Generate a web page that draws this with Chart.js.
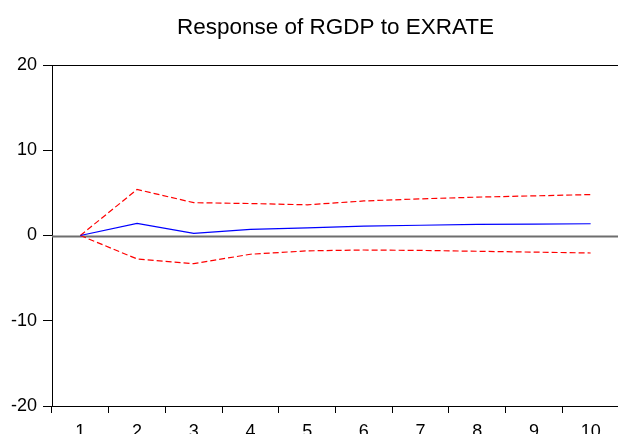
<!DOCTYPE html>
<html>
<head>
<meta charset="utf-8">
<script src="https://cdn.jsdelivr.net/npm/chart.js@4/dist/chart.umd.min.js"></script>
<style>
  html, body { margin: 0; padding: 0; background: #fff; overflow: hidden; }
  #wrap { width: 625px; height: 434px; }
</style>
</head>
<body>
<div id="wrap"><canvas id="irf" width="625" height="434"></canvas></div>
<script>
const periods = ['1', '2', '3', '4', '5', '6', '7', '8', '9', '10'];
const response = [0, 1.41, 0.24, 0.72, 0.9, 1.1, 1.2, 1.3, 1.33, 1.38];
const upperBand = [0, 5.4, 3.85, 3.75, 3.6, 4.05, 4.3, 4.5, 4.65, 4.8];
const lowerBand = [0, -2.75, -3.3, -2.2, -1.8, -1.7, -1.75, -1.85, -1.95, -2.05];
const yTicks = [-20, -10, 0, 10, 20];
const chartTitle = 'Response of RGDP to EXRATE';

const FONT = "'Liberation Sans', Arial, sans-serif";

// top border, zero line and title
const framePlugin = {
  id: 'framePlugin',
  beforeDatasetsDraw(chart) {
    const { ctx, chartArea, scales } = chart;
    ctx.save();
    const y0 = Math.round(scales.y.getPixelForValue(0)) + 0.5;
    ctx.strokeStyle = '#6e6e6e';
    ctx.lineWidth = 2;
    ctx.beginPath();
    ctx.moveTo(chartArea.left, y0);
    ctx.lineTo(chartArea.right + 10, y0);
    ctx.stroke();
    ctx.strokeStyle = '#000';
    ctx.lineWidth = 1;
    ctx.beginPath();
    ctx.moveTo(chartArea.left, chartArea.top + 0.5);
    ctx.lineTo(chartArea.right + 10, chartArea.top + 0.5);
    ctx.stroke();
    ctx.restore();
  },
  afterDraw(chart) {
    const { ctx, chartArea } = chart;
    ctx.save();
    ctx.font = '22.5px ' + FONT;
    ctx.fillStyle = '#000';
    ctx.textAlign = 'center';
    ctx.textBaseline = 'alphabetic';
    ctx.fillText(chartTitle, (chartArea.left + chartArea.right) / 2, 34);
    ctx.restore();
  }
};

new Chart(document.getElementById('irf').getContext('2d'), {
  type: 'line',
  data: {
    labels: periods,
    datasets: [
      {
        label: 'Response',
        data: response,
        borderColor: '#0000ff',
        borderWidth: 1.2,
        pointRadius: 0,
        tension: 0
      },
      {
        label: 'Upper',
        data: upperBand,
        borderColor: '#ff0000',
        borderWidth: 1.2,
        borderDash: [6, 3],
        pointRadius: 0,
        tension: 0
      },
      {
        label: 'Lower',
        data: lowerBand,
        borderColor: '#ff0000',
        borderWidth: 1.2,
        borderDash: [6, 3],
        pointRadius: 0,
        tension: 0
      }
    ]
  },
  options: {
    responsive: false,
    animation: false,
    devicePixelRatio: 1,
    layout: { padding: { top: 65, right: 6, left: 0, bottom: 0 } },
    plugins: {
      legend: { display: false },
      title: { display: false },
      tooltip: { enabled: false }
    },
    scales: {
      x: {
        offset: true,
        grid: {
          offset: true,
          drawOnChartArea: false,
          drawTicks: true,
          tickLength: 7,
          color: '#000'
        },
        border: { display: true, color: '#000', width: 1 },
        ticks: {
          color: '#000',
          padding: 8,
          maxRotation: 0,
          autoSkip: false,
          font: { family: FONT, size: 18 }
        },
        afterFit(scale) { scale.height = 28; }
      },
      y: {
        min: -20,
        max: 20,
        afterBuildTicks(scale) { scale.ticks = yTicks.map(v => ({ value: v })); },
        grid: {
          drawOnChartArea: false,
          drawTicks: true,
          tickLength: 9,
          color: '#000'
        },
        border: { display: true, color: '#000', width: 1 },
        ticks: {
          color: '#000',
          padding: 6,
          font: { family: FONT, size: 18 }
        },
        afterFit(scale) { scale.width = 52; }
      }
    }
  },
  plugins: [framePlugin]
});
</script>
</body>
</html>
